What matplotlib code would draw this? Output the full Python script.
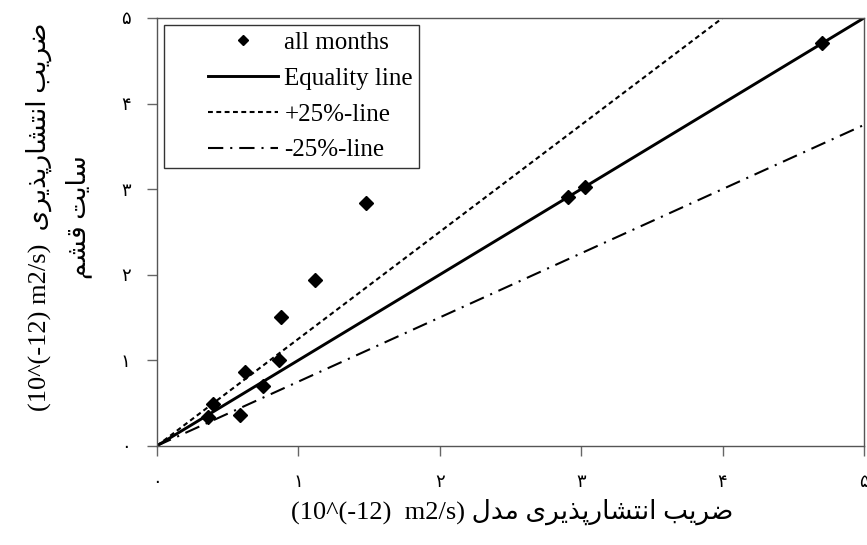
import matplotlib
matplotlib.use('Agg')
import matplotlib.pyplot as plt
from matplotlib.lines import Line2D
from matplotlib.legend_handler import HandlerLine2D

# data (model vs. Qeshm site), units 10^(-12) m2/s
x_model = [0.36, 0.40, 0.59, 0.62, 0.75, 0.86, 0.88, 1.12, 1.48, 2.91, 3.03, 4.70]
y_site = [0.34, 0.49, 0.36, 0.86, 0.70, 1.00, 1.50, 1.94, 2.84, 2.91, 3.03, 4.71]

line_x = [0, 5]
line_factors = [1.0, 1.25, 0.75]
line_names = ['Equality line', '+25%-line', '-25%-line']
tick_values = [0, 1, 2, 3, 4, 5]
persian_digits = '۰۱۲۳۴۵۶۷۸۹'

# --- minimal Persian shaping (matplotlib has no RTL / joining support) ---
FORMS = {  # isolated, final, initial, medial
    'ض': ('\uFEBD', '\uFEBE', '\uFEBF', '\uFEC0'),
    'ر': ('\uFEAD', '\uFEAE', None, None),
    'ی': ('\uFBFC', '\uFBFD', '\uFBFE', '\uFBFF'),
    'ب': ('\uFE8F', '\uFE90', '\uFE91', '\uFE92'),
    'ا': ('\uFE8D', '\uFE8E', None, None),
    'ن': ('\uFEE5', '\uFEE6', '\uFEE7', '\uFEE8'),
    'ت': ('\uFE95', '\uFE96', '\uFE97', '\uFE98'),
    'ش': ('\uFEB5', '\uFEB6', '\uFEB7', '\uFEB8'),
    'پ': ('\uFB56', '\uFB57', '\uFB58', '\uFB59'),
    'ذ': ('\uFEAB', '\uFEAC', None, None),
    'م': ('\uFEE1', '\uFEE2', '\uFEE3', '\uFEE4'),
    'د': ('\uFEA9', '\uFEAA', None, None),
    'ل': ('\uFEDD', '\uFEDE', '\uFEDF', '\uFEE0'),
    'س': ('\uFEB1', '\uFEB2', '\uFEB3', '\uFEB4'),
    'ق': ('\uFED5', '\uFED6', '\uFED7', '\uFED8'),
}


def dual(c):
    return c in FORMS and FORMS[c][2] is not None


def shape(text):
    out = []
    for i, c in enumerate(text):
        if c not in FORMS:
            out.append(c)
            continue
        prev = text[i - 1] if i > 0 else ''
        nxt = text[i + 1] if i + 1 < len(text) else ''
        join_prev = dual(prev)
        join_next = dual(c) and nxt in FORMS
        if join_prev and join_next:
            out.append(FORMS[c][3])
        elif join_prev:
            out.append(FORMS[c][1])
        elif join_next:
            out.append(FORMS[c][2])
        else:
            out.append(FORMS[c][0])
    return ''.join(out[::-1])


def fa_num(n):
    return ''.join(persian_digits[int(d)] for d in str(n))


plt.rcParams['font.family'] = ['Liberation Serif', 'DejaVu Sans']
plt.rcParams['lines.scale_dashes'] = False

fig = plt.figure(figsize=(8.67, 5.45), dpi=100)
ax = fig.add_axes([0.181, 0.182, 0.8155, 0.785])

ax.plot(x_model, y_site, linestyle='none', marker='D', markersize=6.8,
        color='black', label='all months', zorder=5)

styles = [dict(linestyle='-', linewidth=2.1),
          dict(linestyle=(0, (3.5, 2.5)), linewidth=1.5),
          dict(linestyle=(0, (11, 5, 1.5, 5)), linewidth=1.5)]
for f, name, st in zip(line_factors, line_names, styles):
    ax.plot(line_x, [v * f for v in line_x], color='black', label=name, **st)

ax.set_xlim(0, 5)
ax.set_ylim(0, 5)
ax.set_xticks(tick_values)
ax.set_yticks(tick_values)
ax.set_xticklabels([fa_num(v) for v in tick_values])
ax.set_yticklabels([fa_num(v) for v in tick_values])
ax.tick_params(axis='both', direction='out', length=7, width=1, color='#666666',
               labelsize=13, top=False, right=False)
ax.tick_params(axis='x', pad=13)
ax.tick_params(axis='y', pad=12)
for s in ax.spines.values():
    s.set_color('#555555')
    s.set_linewidth(1.0)

xlabel = '(10^(-12)  m2/s) ' + shape('ضریب انتشارپذیری مدل')
ax.set_xlabel(xlabel, fontsize=19)
ax.xaxis.set_label_coords(0.502, -0.124)
ylabel = '(10^(-12) m2/s)  ' + shape('ضریب انتشارپذیری') + '\n' + shape('سایت قشم')
ax.set_ylabel(ylabel, fontsize=19, linespacing=1.65)
ax.yaxis.set_label_coords(-0.092, 0.535)

leg = ax.legend(loc='upper left', fontsize=18, frameon=True, fancybox=False,
                edgecolor='black', handlelength=4.3, borderaxespad=0.3,
                labelspacing=0.53, borderpad=0.25, handletextpad=0.25,
                handler_map={Line2D: HandlerLine2D(xpad=1.5)})
leg.get_frame().set_linewidth(1.0)
leg.legend_handles[0].set_markersize(5.5)

fig.savefig('out.png', dpi=100)
